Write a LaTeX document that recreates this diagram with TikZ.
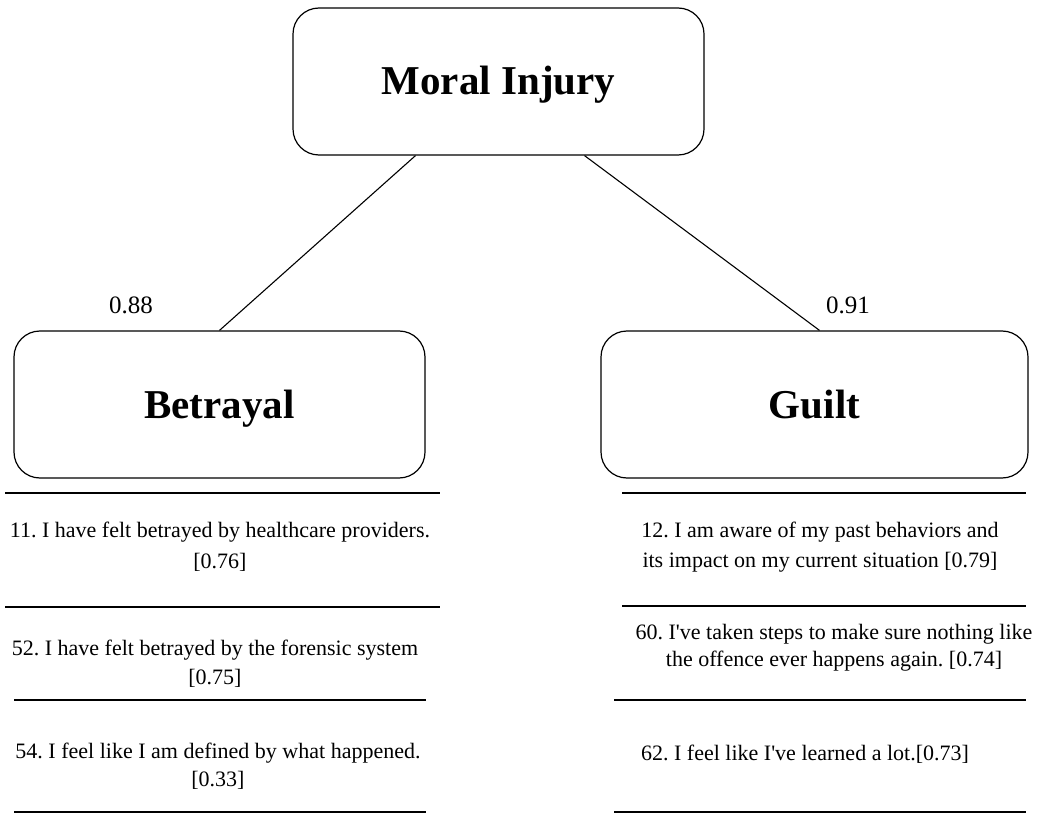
\documentclass[tikz,border=0pt]{standalone}
\usepackage{fontspec}
\setmainfont{Liberation Serif}
\usetikzlibrary{calc}
\frenchspacing
\newcommand{\apos}{\textquotesingle}
\begin{document}
\begin{tikzpicture}[x=1pt,y=-1pt,
  factor/.style={draw,line width=1.2pt,rounded corners=26pt,minimum height=147pt,inner sep=0pt,text height=30pt,text depth=3pt,font=\fontsize{41}{48}\selectfont\bfseries},
  item/.style={align=center,inner sep=0pt,font=\fontsize{22}{31}\selectfont},
  load/.style={inner sep=0pt,font=\fontsize{25}{30}\selectfont},
  rule/.style={line width=1.3pt},
  link/.style={line width=1.1pt}]
\useasboundingbox (0,0) rectangle (1042,813);
\node[factor,minimum width=411pt] (top) at (498.5,81.5) {Moral Injury};
\node[factor,minimum width=411pt] (bet) at (219.5,404.5) {Betrayal};
\node[factor,minimum width=427pt] (gui) at (814.5,404.5) {Guilt};
\draw[link] ($(top.south)+(-83,0)$) -- (bet.north);
\draw[link] ($(top.south)+(86,0)$) -- ($(gui.north)+(5,0)$);
\node[load] (l1) at (131,305) {0.88};
\node[load] (l2) at (848,305) {0.91};
% left rules
\draw[rule] (5,493) -- (440,493);
\draw[rule] (5,607) -- (440,607);
\draw[rule] (14,700) -- (426,700);
\draw[rule] (14,812) -- (426,812);
% right rules
\draw[rule] (622,493) -- (1026,493);
\draw[rule] (622,606) -- (1026,606);
\draw[rule] (614,700) -- (1026,700);
\draw[rule] (614,812) -- (1026,812);
% items
\node[item] (i11) at (220,547) {11. I have felt betrayed by healthcare providers.\\\relax [0.76]};
\node[item,font=\fontsize{22}{29}\selectfont] (i52) at (215,664) {52. I have felt betrayed by the forensic system\\\relax [0.75]};
\node[item,font=\fontsize{22}{28}\selectfont] (i54) at (218,766) {54. I feel like I am defined by what happened.\\\relax [0.33]};
\node[item,font=\fontsize{22}{30}\selectfont] (i12) at (820,547) {12. I am aware of my past behaviors and\\its impact on my current situation [0.79]};
\node[item,font=\fontsize{22}{27}\selectfont] (i60) at (834,648) {60. I\apos ve taken steps to make sure nothing like\\the offence ever happens again. [0.74]};
\node[item] (i62) at (805,754) {62. I feel like I\apos ve learned a lot.[0.73]};
\end{tikzpicture}
\end{document}
